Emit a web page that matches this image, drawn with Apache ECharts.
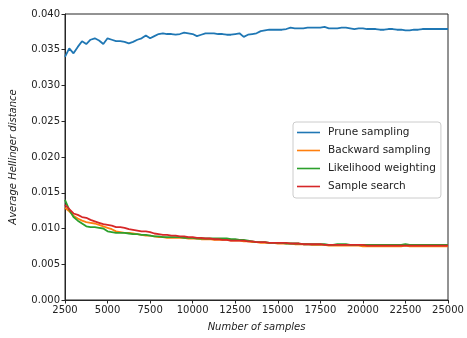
<!DOCTYPE html>
<html>
<head>
<meta charset="utf-8">
<script src="https://cdn.jsdelivr.net/npm/echarts@6/dist/echarts.min.js"></script>
<style>
html,body{margin:0;padding:0;background:#fff;}
#chart{width:467px;height:338px;}
</style>
</head>
<body>
<div id="chart"></div>
<script>
const samples = [
  2500,2750,3000,3250,3500,3750,4000,4250,4500,4750,
  5000,5250,5500,5750,6000,6250,6500,6750,7000,7250,
  7500,7750,8000,8250,8500,8750,9000,9250,9500,9750,
  10000,10250,10500,10750,11000,11250,11500,11750,12000,12250,
  12500,12750,13000,13250,13500,13750,14000,14250,14500,14750,
  15000,15250,15500,15750,16000,16250,16500,16750,17000,17250,
  17500,17750,18000,18250,18500,18750,19000,19250,19500,19750,
  20000,20250,20500,20750,21000,21250,21500,21750,22000,22250,
  22500,22750,23000,23250,23500,23750,24000,24250,24500,24750,
  25000
];
const pruneSampling = [
  0.0340,0.0352,0.0345,0.0354,0.0362,0.0358,0.0364,0.0366,0.0363,0.0358,
  0.0366,0.0364,0.0362,0.0362,0.0361,0.0359,0.0361,0.0364,0.0366,0.0370,
  0.0366,0.0369,0.0372,0.0373,0.0372,0.0372,0.0371,0.0372,0.0374,0.0373,
  0.0372,0.0369,0.0371,0.0373,0.0373,0.0373,0.0372,0.0372,0.0371,0.0371,
  0.0372,0.0373,0.0368,0.0371,0.0372,0.0373,0.0376,0.0377,0.0378,0.0378,
  0.0378,0.0378,0.0379,0.0381,0.0380,0.0380,0.0380,0.0381,0.0381,0.0381,
  0.0381,0.0382,0.0380,0.0380,0.0380,0.0381,0.0381,0.0380,0.0379,0.0380,
  0.0380,0.0379,0.0379,0.0379,0.0378,0.0378,0.0379,0.0379,0.0378,0.0378,
  0.0377,0.0377,0.0378,0.0378,0.0379,0.0379,0.0379,0.0379,0.0379,0.0379,
  0.0379
];
const backwardSampling = [
  0.0129,0.0124,0.0118,0.0114,0.0111,0.0109,0.0108,0.0107,0.0105,0.0103,
  0.0101,0.0099,0.0096,0.0095,0.0094,0.0094,0.0093,0.0092,0.0091,0.0090,
  0.0090,0.0089,0.0088,0.0088,0.0087,0.0087,0.0087,0.0087,0.0087,0.0086,
  0.0086,0.0086,0.0085,0.0085,0.0085,0.0084,0.0084,0.0084,0.0084,0.0083,
  0.0083,0.0083,0.0082,0.0082,0.0081,0.0081,0.0080,0.0080,0.0080,0.0080,
  0.0079,0.0079,0.0079,0.0079,0.0078,0.0078,0.0078,0.0078,0.0077,0.0077,
  0.0077,0.0077,0.0076,0.0076,0.0076,0.0076,0.0076,0.0076,0.0076,0.0076,
  0.0075,0.0075,0.0075,0.0075,0.0075,0.0075,0.0075,0.0075,0.0075,0.0075,
  0.0076,0.0075,0.0075,0.0075,0.0075,0.0075,0.0075,0.0075,0.0075,0.0075,
  0.0075
];
const likelihoodWeighting = [
  0.0140,0.0126,0.0116,0.0111,0.0107,0.0103,0.0102,0.0102,0.0101,0.0100,
  0.0096,0.0095,0.0094,0.0094,0.0094,0.0093,0.0092,0.0092,0.0091,0.0091,
  0.0090,0.0089,0.0089,0.0088,0.0088,0.0088,0.0088,0.0088,0.0087,0.0087,
  0.0087,0.0086,0.0086,0.0086,0.0086,0.0086,0.0086,0.0086,0.0086,0.0085,
  0.0085,0.0084,0.0084,0.0083,0.0082,0.0081,0.0081,0.0081,0.0080,0.0080,
  0.0080,0.0080,0.0079,0.0079,0.0079,0.0079,0.0078,0.0078,0.0078,0.0078,
  0.0078,0.0078,0.0077,0.0077,0.0078,0.0078,0.0078,0.0077,0.0077,0.0077,
  0.0077,0.0077,0.0077,0.0077,0.0077,0.0077,0.0077,0.0077,0.0077,0.0077,
  0.0078,0.0077,0.0077,0.0077,0.0077,0.0077,0.0077,0.0077,0.0077,0.0077,
  0.0077
];
const sampleSearch = [
  0.0133,0.0127,0.0121,0.0119,0.0116,0.0115,0.0112,0.0110,0.0108,0.0106,
  0.0105,0.0104,0.0102,0.0102,0.0101,0.0099,0.0098,0.0097,0.0096,0.0096,
  0.0095,0.0093,0.0092,0.0091,0.0091,0.0090,0.0090,0.0089,0.0089,0.0088,
  0.0088,0.0087,0.0087,0.0086,0.0086,0.0085,0.0085,0.0084,0.0084,0.0083,
  0.0083,0.0083,0.0083,0.0082,0.0082,0.0081,0.0081,0.0081,0.0080,0.0080,
  0.0080,0.0080,0.0080,0.0079,0.0079,0.0079,0.0078,0.0078,0.0078,0.0078,
  0.0078,0.0077,0.0077,0.0077,0.0077,0.0077,0.0077,0.0077,0.0077,0.0077,
  0.0077,0.0076,0.0076,0.0076,0.0076,0.0076,0.0076,0.0076,0.0076,0.0076,
  0.0076,0.0076,0.0076,0.0076,0.0076,0.0076,0.0076,0.0076,0.0076,0.0076,
  0.0076
];
const seriesNames = ['Prune sampling','Backward sampling','Likelihood weighting','Sample search'];
const seriesValues = [pruneSampling, backwardSampling, likelihoodWeighting, sampleSearch];
const colors = ['#1f77b4','#ff7f0e','#2ca02c','#d62728'];

const chart = echarts.init(document.getElementById('chart'), null, {renderer:'canvas'});
const font = 'DejaVu Sans';
chart.setOption({
  animation: false,
  color: colors,
  grid: {left:64, right:19, top:14, bottom:38, show:true, borderColor:'#262626', borderWidth:1},
  legend: {
    orient:'vertical', left:293, top:122, itemWidth:23, itemHeight:10, itemGap:7,
    padding:[5,5,6,4], borderColor:'#cccccc', borderWidth:1, borderRadius:3, backgroundColor:'#ffffff',
    icon:'path://M0 0H23V1.6H0Z',
    textStyle:{fontFamily:font, fontSize:10.5, color:'#222', padding:[1,0,0,3]},
    data: seriesNames
  },
  xAxis: {
    type:'value', min:2500, max:25000, interval:2500,
    name:'Number of samples', nameLocation:'middle', nameGap:22,
    nameTextStyle:{fontFamily:font, fontSize:10, fontStyle:'italic', color:'#222'},
    axisLine:{lineStyle:{color:'#262626'}},
    axisTick:{show:true, inside:false, length:3.5, lineStyle:{color:'#262626'}},
    axisLabel:{fontFamily:font, fontSize:10, color:'#222', margin:5, formatter: v => String(v)},
    splitLine:{show:false}
  },
  yAxis: {
    type:'value', min:0, max:0.04, interval:0.005,
    name:'Average Hellinger distance', nameLocation:'middle', nameGap:47,
    nameTextStyle:{fontFamily:font, fontSize:10, fontStyle:'italic', color:'#222'},
    axisLine:{lineStyle:{color:'#262626'}},
    axisTick:{show:true, inside:false, length:3.5, lineStyle:{color:'#262626'}},
    axisLabel:{fontFamily:font, fontSize:10, color:'#222', margin:5, formatter: v => v.toFixed(3)},
    splitLine:{show:false}
  },
  series: seriesNames.map((n,i) => ({
    name:n, type:'line', symbol:'none', showSymbol:false,
    lineStyle:{width:1.8, color:colors[i]},
    data: samples.map((s,j) => [s, seriesValues[i][j]])
  }))
});
</script>
</body>
</html>
